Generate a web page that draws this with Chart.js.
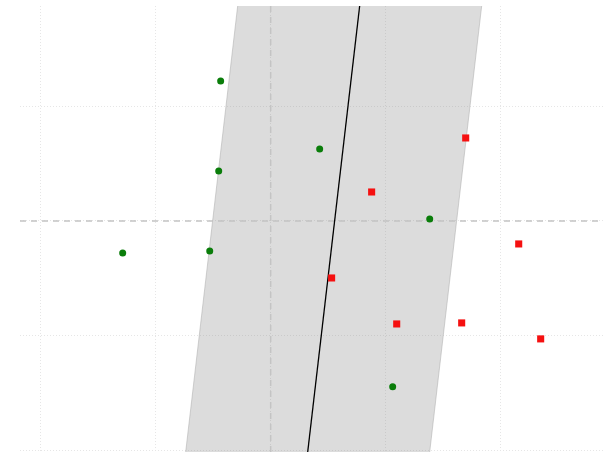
<!DOCTYPE html>
<html>
<head>
<meta charset="utf-8">
<script src="https://cdn.jsdelivr.net/npm/chart.js@4"></script>
<style>
  html, body { margin: 0; padding: 0; background: #fff; }
  #wrap { width: 603px; height: 452px; position: relative; }
</style>
</head>
<body>
<div id="wrap"><canvas id="grafica"></canvas></div>
<script>
// axis extents and grid ticks
const xRange = [-2.18, 2.89];
const yRange = [-2.01, 1.87];
const xTicks = [-2, -1, 0, 1, 2];
const yTicks = [-2, -1, 0, 1];

// class A (green circles)
const greenX = [-0.435, 0.426, -0.452, 1.383, -0.530, -1.287, 1.061];
const greenY = [1.217, 0.626, 0.435, 0.017, -0.261, -0.278, -1.443];

// class B (red squares)
const redX = [1.696, 0.878, 2.157, 0.530, 1.096, 1.661, 2.348];
const redY = [0.722, 0.252, -0.200, -0.496, -0.896, -0.887, -1.026];

// separating line x = lineA + lineB * y, margin half-width in x units
const lineA = 0.556;
const lineB = 0.1165;
const margin = 1.061;

const ctx = document.getElementById('grafica').getContext('2d');

const lineAt = (off) => yRange.map(y => ({ x: lineA + lineB * y + off, y: y }));
const pts = (xs, ys) => xs.map((x, i) => ({ x: x, y: ys[i] }));

const grafica = new Chart(ctx, {
  type: 'scatter',
  data: {
    datasets: [
      {
        // left edge of the margin band, filled across to the right edge
        // (indexed along y so the fill spans the full height)
        type: 'line',
        indexAxis: 'y',
        data: lineAt(-margin),
        borderColor: 'rgba(170,170,170,0.5)',
        borderWidth: 1,
        backgroundColor: 'rgba(140,140,140,0.3)',
        fill: '+1',
        pointRadius: 0,
        tension: 0,
        order: 5
      },
      {
        type: 'line',
        indexAxis: 'y',
        data: lineAt(margin),
        borderColor: 'rgba(170,170,170,0.5)',
        borderWidth: 1,
        pointRadius: 0,
        fill: false,
        tension: 0,
        order: 4
      },
      {
        // y = 0 reference line
        type: 'line',
        data: xRange.map(x => ({ x: x, y: 0 })),
        borderColor: '#c4c4c4',
        borderWidth: 1.5,
        borderDash: [6, 5],
        pointRadius: 0,
        fill: false,
        order: 3
      },
      {
        // x = 0 reference line
        type: 'line',
        indexAxis: 'y',
        data: yRange.map(y => ({ x: 0, y: y })),
        borderColor: '#c4c4c4',
        borderWidth: 1.5,
        borderDash: [6, 5],
        pointRadius: 0,
        fill: false,
        order: 3
      },
      {
        type: 'line',
        indexAxis: 'y',
        data: lineAt(0),
        borderColor: '#000',
        borderWidth: 1.3,
        pointRadius: 0,
        fill: false,
        order: 2
      },
      {
        data: pts(greenX, greenY),
        pointStyle: 'circle',
        pointRadius: 3.5,
        pointBackgroundColor: '#0a7d0a',
        pointBorderWidth: 0,
        order: 1
      },
      {
        data: pts(redX, redY),
        pointStyle: 'rect',
        pointRadius: 5,
        pointBackgroundColor: '#f51010',
        pointBorderWidth: 0,
        order: 1
      }
    ]
  },
  options: {
    responsive: true,
    maintainAspectRatio: false,
    animation: false,
    layout: { autoPadding: false, padding: { left: 20, top: 6, right: 0, bottom: 0 } },
    plugins: {
      legend: { display: false },
      tooltip: { enabled: false }
    },
    scales: {
      x: {
        type: 'linear',
        min: xRange[0],
        max: xRange[1],
        afterBuildTicks: (s) => { s.ticks = xTicks.map(v => ({ value: v })); },
        ticks: { display: false },
        grid: { color: '#e6e6e6', lineWidth: 1, drawTicks: false },
        border: { display: false, dash: [1, 2] }
      },
      y: {
        type: 'linear',
        min: yRange[0],
        max: yRange[1],
        afterBuildTicks: (s) => { s.ticks = yTicks.map(v => ({ value: v })); },
        ticks: { display: false },
        grid: { color: '#e6e6e6', lineWidth: 1, drawTicks: false },
        border: { display: false, dash: [1, 2] }
      }
    }
  }
});
</script>
</body>
</html>
